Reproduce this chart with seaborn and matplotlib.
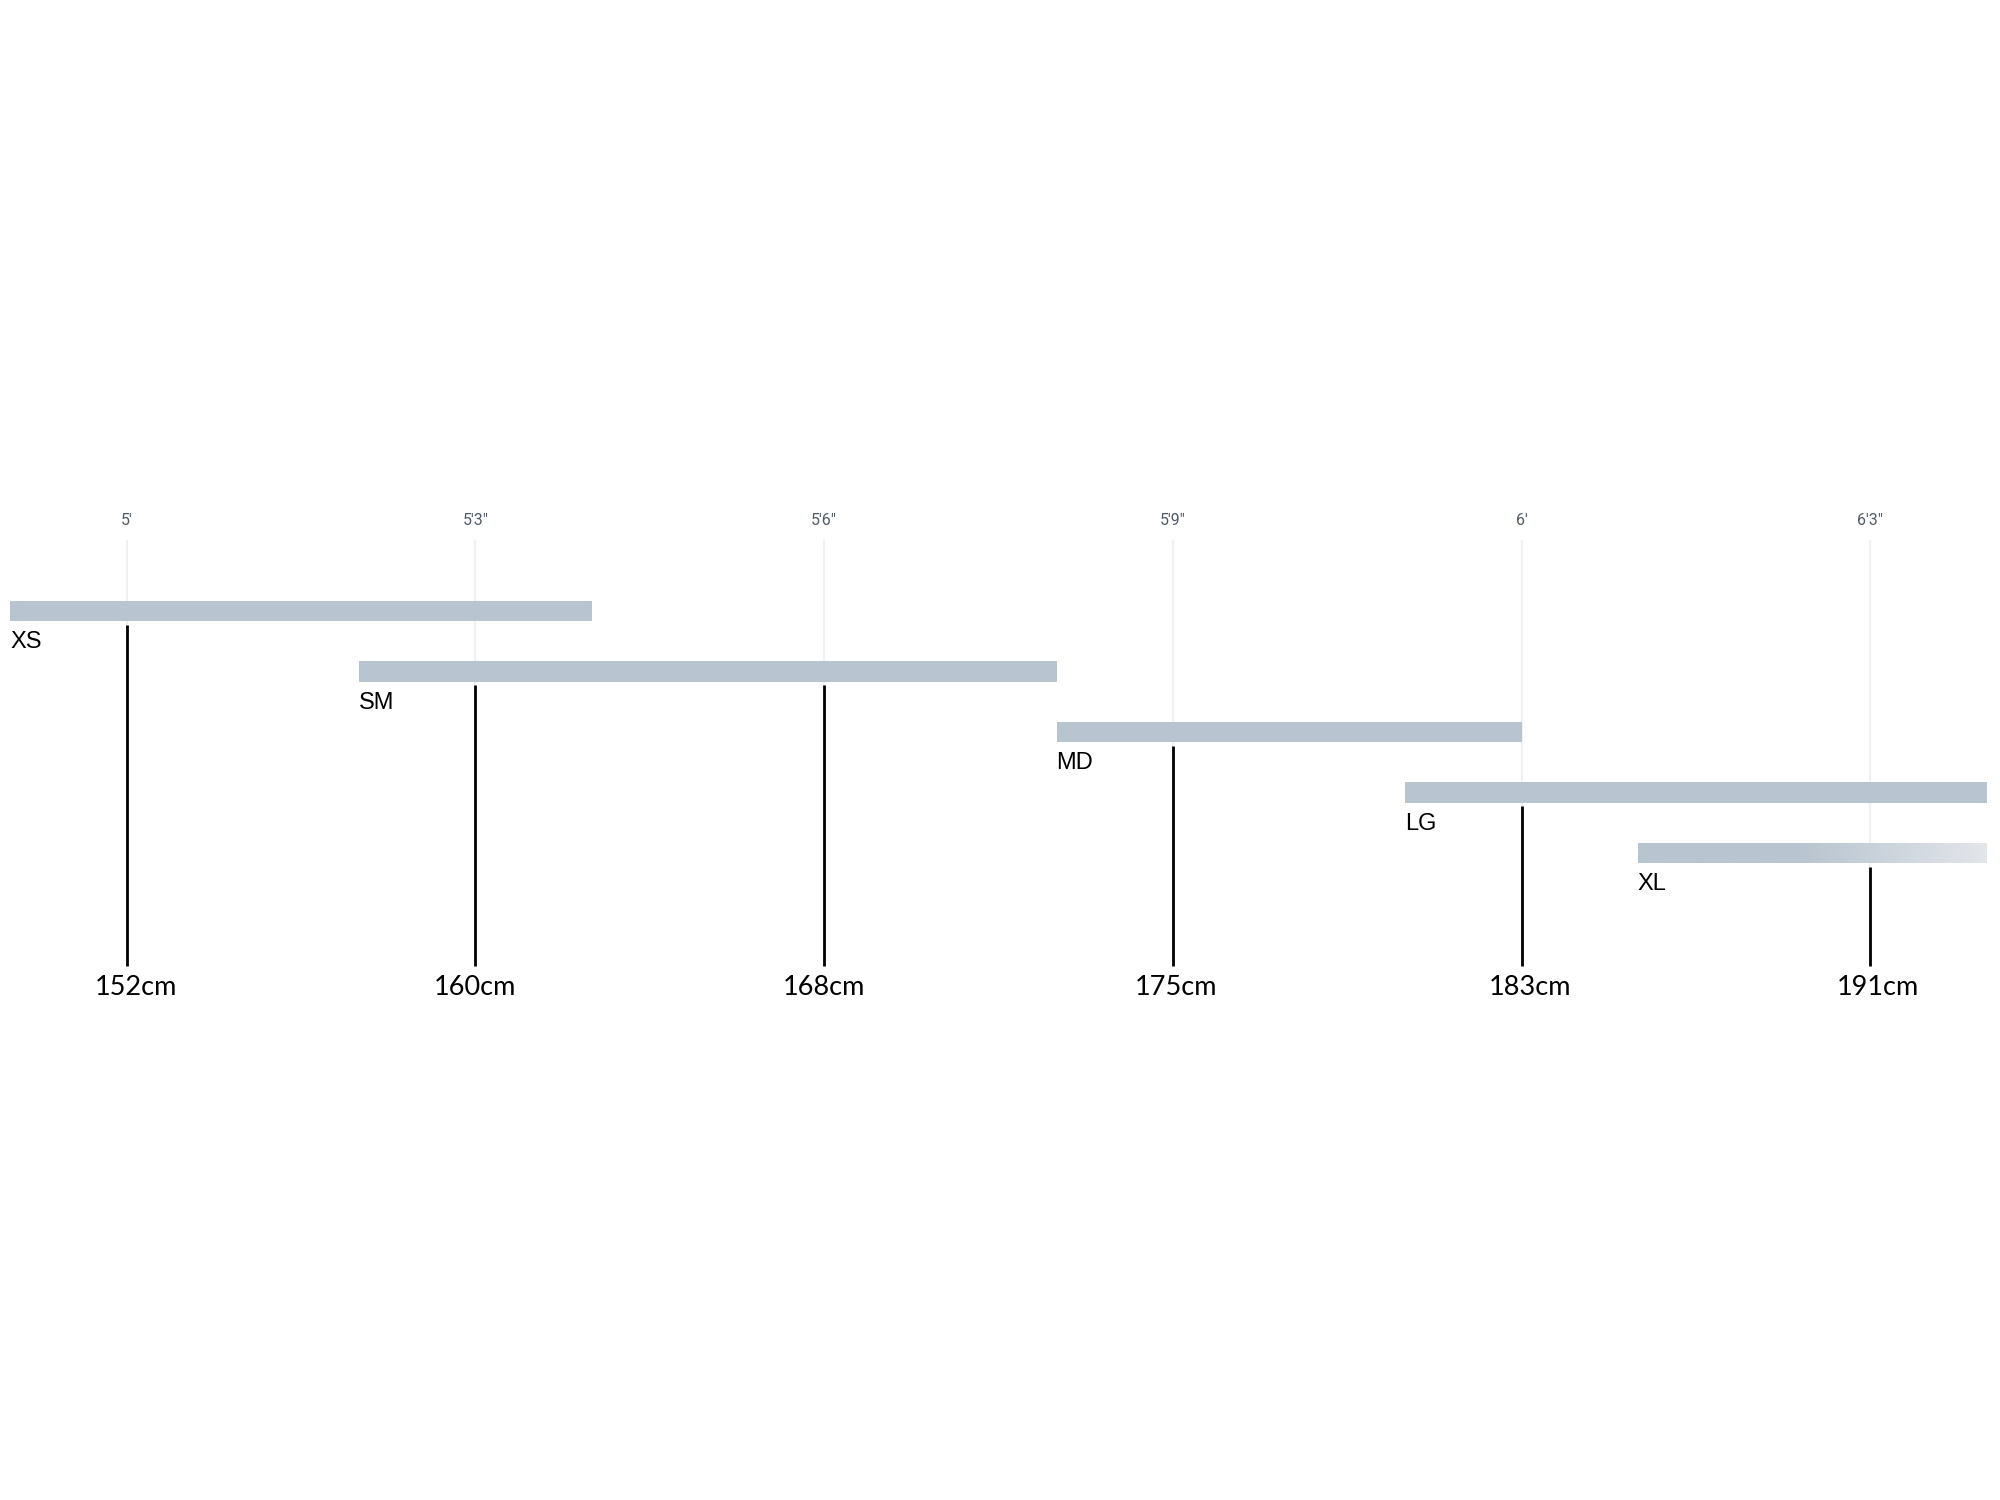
import numpy as np
import pandas as pd
import matplotlib
matplotlib.use("Agg")
import matplotlib.pyplot as plt
from matplotlib.colors import LinearSegmentedColormap
from matplotlib.transforms import offset_copy
import seaborn as sns

# ---- data ----
sizes = ["XS", "SM", "MD", "LG", "XL"]
range_start_in = [59, 62, 68, 71, 73]      # rider height range start (inches)
range_end_in = [64, 68, 72, 76, 76]        # rider height range end (inches)
tick_in = [60, 63, 66, 69, 72, 75]
tick_ft_labels = ["5'", "5'3\"", "5'6\"", "5'9\"", "6'", "6'3\""]
tick_cm_labels = ["152cm", "160cm", "168cm", "175cm", "183cm", "191cm"]

# ---- style ----
BAR = "#b8c4cf"
BAR_FADE = "#e3e6eb"
GRID = "#f0f1f3"
TOP_TXT = "#505a69"
cm_label_nudge_px = [9, 0, 0, 3, 8, 8]   # small horizontal nudges of the cm labels

sns.set_theme(style="white")
plt.rcParams["font.family"] = ["Liberation Sans", "DejaVu Sans"]

fig = plt.figure(figsize=(20, 15), dpi=100)
ax = fig.add_axes([0, 0, 1, 1])

df = pd.DataFrame({
    "size": sizes,
    "span": np.array(range_end_in) - np.array(range_start_in),
})
bar_h = 0.337
sns.barplot(data=df, x="span", y="size", order=sizes, orient="h",
            left=range_start_in, color=BAR, saturation=1, width=bar_h,
            errorbar=None, ax=ax, zorder=3, linewidth=0)

# gradient fade on the open-ended last bar
xl_idx = len(sizes) - 1
xl_patch = ax.patches[xl_idx]
x0, x1 = range_start_in[xl_idx], range_end_in[xl_idx]
xs = np.linspace(x0, x1, 400)
fade_start = 74.4
vals = np.clip((xs - fade_start) / (x1 - fade_start), 0, 1)[None, :]
cmap = LinearSegmentedColormap.from_list("fade", [BAR, BAR_FADE])
im = ax.imshow(vals, cmap=cmap, vmin=0, vmax=1, aspect="auto",
               extent=[x0, x1, xl_idx + bar_h / 2, xl_idx - bar_h / 2],
               zorder=4, interpolation="bilinear")
im.set_clip_path(xl_patch)

grid_top = -1.17
line_bottom = 5.86
gap = 0.06
for t, ft, cm, dx in zip(tick_in, tick_ft_labels, tick_cm_labels, cm_label_nudge_px):
    ax.vlines(t, grid_top, line_bottom, color=GRID, lw=1.5, zorder=1)
    covering = [i for i, (s, e) in enumerate(zip(range_start_in, range_end_in)) if s <= t <= e]
    top = max(covering) + bar_h / 2 + gap
    ax.vlines(t, top, line_bottom, color="black", lw=2.0, zorder=5)
    ax.text(t, -1.50, ft, ha="center", va="center", fontsize=11.5, color=TOP_TXT,
            family=["Roboto", "DejaVu Sans"])
    tr = offset_copy(ax.transData, fig=fig, x=dx, y=0, units="dots")
    ax.text(t, 6.22, cm, ha="center", va="center", fontsize=19.5, color="black",
            family=["Lato", "DejaVu Sans"], transform=tr)

for i, (s, name) in enumerate(zip(range_start_in, sizes)):
    ax.text(s, i + 0.51, name, ha="left", va="center", fontsize=17, color="black")

ax.set_xlim(58.91, 76.116)
ax.set_ylim(14.69, -10.1)
ax.axis("off")

fig.savefig("out.png", dpi=100, facecolor="white")
